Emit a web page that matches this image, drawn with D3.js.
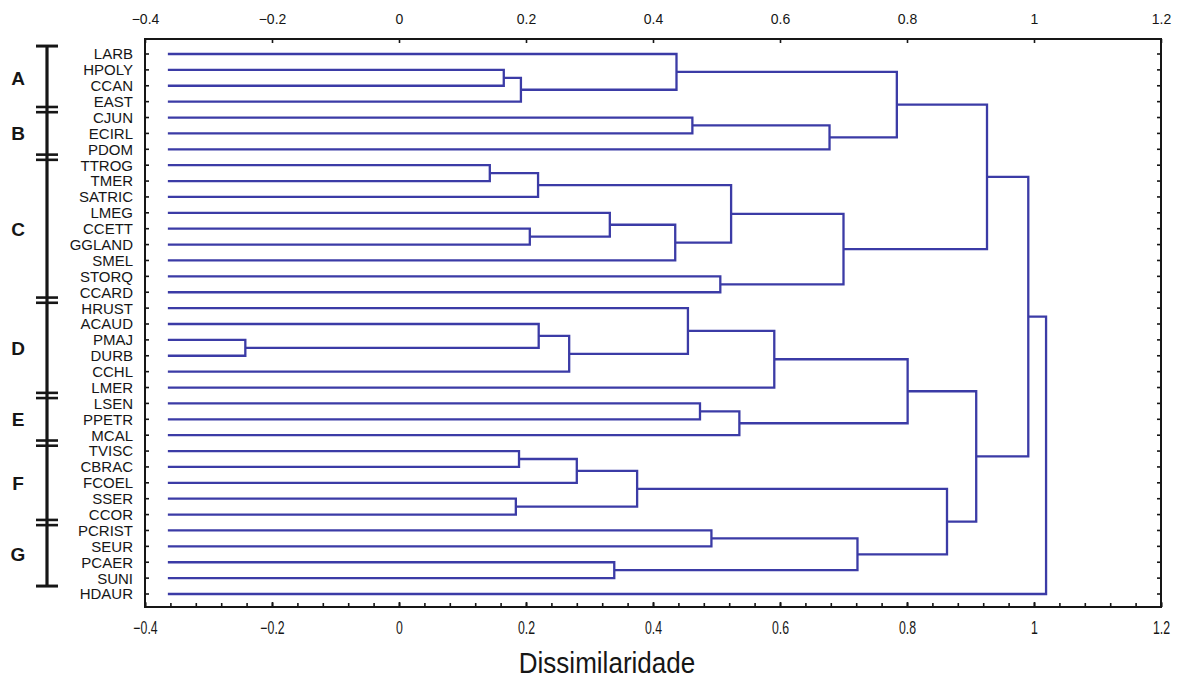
<!DOCTYPE html>
<html>
<head>
<meta charset="utf-8">
<script src="https://cdn.jsdelivr.net/npm/d3@7"></script>
<style>
  body { margin: 0; background: #fff; }
  svg { display: block; }
</style>
</head>
<body>
<svg id="chart" width="1180" height="680"></svg>
<script>
// ---------- DATA ----------
const leaves = ["LARB","HPOLY","CCAN","EAST","CJUN","ECIRL","PDOM","TTROG","TMER","SATRIC",
  "LMEG","CCETT","GGLAND","SMEL","STORQ","CCARD","HRUST","ACAUD","PMAJ","DURB","CCHL","LMER",
  "LSEN","PPETR","MCAL","TVISC","CBRAC","FCOEL","SSER","CCOR","PCRIST","SEUR","PCAER","SUNI","HDAUR"];
const leafStart = -0.364; // dissimilarity at which leaf lines start

// linkage: [id, left child, right child, merge dissimilarity]
const mergeIds    = ["m1","m2","m3","m4","m5","m6","m7","m8","m9","m10","m11","m12","m13","m14","m15",
  "m16","m17","m18","m19","m20","m21","m22","m23","m24","m25","m26","m27","m28","m29","m30","m31","m32","m33","m34"];
const mergeLeft   = ["HPOLY","m1","LARB","CJUN","m4","m3","TTROG","m7","CCETT","LMEG","m10","m8","STORQ","m12","m6",
  "PMAJ","ACAUD","m17","HRUST","m19","LSEN","m21","m20","TVISC","m24","SSER","m25","PCRIST","PCAER","m28","m27","m23","m15","m33"];
const mergeRight  = ["CCAN","EAST","m2","ECIRL","PDOM","m5","TMER","SATRIC","GGLAND","m9","SMEL","m11","CCARD","m13","m14",
  "DURB","m16","CCHL","m18","LMER","PPETR","MCAL","m22","CBRAC","FCOEL","CCOR","m26","SEUR","SUNI","m29","m30","m31","m32","HDAUR"];
const mergeHeight = [0.165,0.192,0.437,0.462,0.678,0.784,0.143,0.219,0.206,0.332,0.435,0.523,0.506,0.700,0.926,
  -0.242,0.220,0.268,0.455,0.591,0.474,0.536,0.801,0.189,0.280,0.184,0.375,0.492,0.339,0.722,0.863,0.909,0.991,1.019];

const groupNames = ["A","B","C","D","E","F","G"];
const groupFirst = ["LARB","CJUN","TTROG","HRUST","LSEN","TVISC","PCRIST"];
const groupLast  = ["EAST","PDOM","CCARD","LMER","MCAL","CCOR","SUNI"];

const majorTicks = [-0.4,-0.2,0,0.2,0.4,0.6,0.8,1,1.2];
const minorTicks = d3.range(0, 41).map(i => -0.4 + i * 0.04);
const xTitle = "Dissimilaridade";

// ---------- LAYOUT ----------
const svg = d3.select("#chart");
const frame = { left: 145, right: 1161, top: 39, bottom: 607 };
const x = d3.scaleLinear().domain([-0.4, 1.2]).range([frame.left, frame.right]);
const y = d3.scalePoint().domain(leaves).range([54, 594]);
const step = y.step();
const lineColor = "#3b3ba6";
const ink = "#161616";
const fmt = d => d3.format("")(+(+d).toFixed(1));

// node positions
const nodes = {};
leaves.forEach(l => nodes[l] = { x: leafStart, y: y(l) });
mergeIds.forEach((id, i) => {
  const a = nodes[mergeLeft[i]], b = nodes[mergeRight[i]];
  nodes[id] = { x: mergeHeight[i], y: (a.y + b.y) / 2, a, b };
});

// ---------- FRAME ----------
svg.append("rect")
  .attr("x", frame.left).attr("y", frame.top)
  .attr("width", frame.right - frame.left).attr("height", frame.bottom - frame.top)
  .attr("fill", "none").attr("stroke", ink).attr("stroke-width", 2);

// row ticks on left & right frame (inward)
const rowTicks = svg.append("g").attr("stroke", ink).attr("stroke-width", 1.6);
leaves.forEach(l => {
  rowTicks.append("line").attr("x1", frame.left).attr("x2", frame.left + 4).attr("y1", y(l)).attr("y2", y(l));
  rowTicks.append("line").attr("x1", frame.right).attr("x2", frame.right - 4).attr("y1", y(l)).attr("y2", y(l));
});

// top axis
const topAxis = svg.append("g")
  .attr("transform", `translate(0,${frame.top})`)
  .call(d3.axisTop(x).tickValues(majorTicks).tickSize(-4).tickPadding(15).tickFormat(fmt));
topAxis.select(".domain").remove();
topAxis.selectAll("line").attr("stroke", ink).attr("stroke-width", 1.6);
topAxis.selectAll("text").attr("fill", ink)
  .style("font-family", "'Liberation Sans', Arial, sans-serif").style("font-size", "14px");

// bottom axis: minor ticks
const botMinor = svg.append("g")
  .attr("transform", `translate(0,${frame.bottom})`)
  .call(d3.axisBottom(x).tickValues(minorTicks).tickSize(-4).tickFormat(""));
botMinor.select(".domain").remove();
botMinor.selectAll("line").attr("stroke", ink).attr("stroke-width", 1.6);

const botAxis = svg.append("g")
  .attr("transform", `translate(0,${frame.bottom})`)
  .call(d3.axisBottom(x).tickValues(majorTicks).tickSize(-5).tickFormat(fmt));
botAxis.select(".domain").remove();
botAxis.selectAll("line").attr("stroke", ink).attr("stroke-width", 1.8);
botAxis.selectAll("text")
  .attr("fill", ink).attr("x", 0).attr("y", 0).attr("dy", 0)
  .attr("transform", "translate(0,27) scale(0.82,1.18)")
  .style("font-family", "'Liberation Sans Narrow', 'Liberation Sans', Arial, sans-serif")
  .style("font-size", "15px");

// x title
svg.append("text")
  .attr("x", 0).attr("y", 0)
  .attr("transform", `translate(607,673) scale(0.93,1.05)`)
  .attr("text-anchor", "middle")
  .attr("fill", ink)
  .style("font-family", "'Liberation Sans Narrow', 'Liberation Sans', Arial, sans-serif")
  .style("font-size", "28px")
  .text(xTitle);

// ---------- DENDROGRAM ----------
const dend = svg.append("g").attr("fill", "none").attr("stroke", lineColor)
  .attr("stroke-width", 2.3).attr("stroke-linejoin", "miter");
mergeIds.forEach(id => {
  const n = nodes[id];
  const p = d3.path();
  p.moveTo(x(n.a.x), n.a.y);
  p.lineTo(x(n.x), n.a.y);
  p.lineTo(x(n.x), n.b.y);
  p.lineTo(x(n.b.x), n.b.y);
  dend.append("path").attr("d", p.toString());
});

// ---------- LEAF LABELS ----------
svg.append("g").selectAll("text").data(leaves).join("text")
  .attr("x", 133).attr("y", d => y(d)).attr("dy", "0.36em")
  .attr("text-anchor", "end").attr("fill", ink)
  .style("font-family", "'Liberation Sans', Arial, sans-serif").style("font-size", "15px")
  .text(d => d);

// ---------- GROUP BRACKET ----------
const bx = 47;
const br = svg.append("g").attr("stroke", ink);
const topY = y(leaves[0]) - step / 2;
const botY = y(groupLast[groupLast.length - 1]) + step / 2;
br.append("line").attr("x1", bx).attr("x2", bx).attr("y1", topY).attr("y2", botY).attr("stroke-width", 3.2);
br.append("line").attr("x1", bx - 11).attr("x2", bx + 11).attr("y1", topY).attr("y2", topY).attr("stroke-width", 3);
br.append("line").attr("x1", bx - 11).attr("x2", bx + 11).attr("y1", botY).attr("y2", botY).attr("stroke-width", 3);
groupLast.slice(0, -1).forEach(l => {
  const yy = y(l) + step / 2;
  [-2.6, 2.6].forEach(o => br.append("line")
    .attr("x1", bx - 11).attr("x2", bx + 11).attr("y1", yy + o).attr("y2", yy + o).attr("stroke-width", 2.6));
});
svg.append("g").selectAll("text").data(groupNames).join("text")
  .attr("x", 18)
  .attr("y", (d, i) => (y(groupFirst[i]) + y(groupLast[i])) / 2)
  .attr("dy", "0.36em")
  .attr("text-anchor", "middle").attr("fill", ink)
  .style("font-family", "'Liberation Sans', Arial, sans-serif")
  .style("font-size", "19px").style("font-weight", "bold")
  .text(d => d);
</script>
</body>
</html>
